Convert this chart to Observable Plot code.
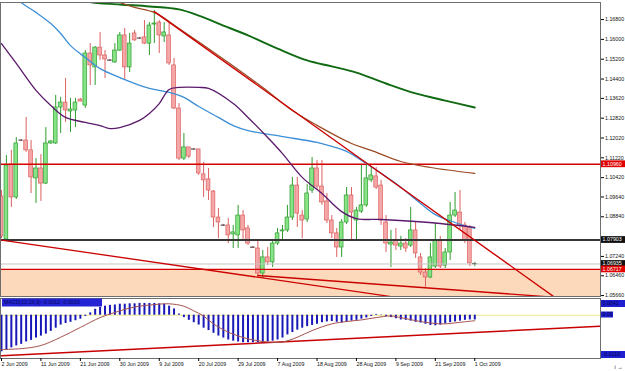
<!DOCTYPE html>
<html><head><meta charset="utf-8">
<script src="https://cdn.jsdelivr.net/npm/d3@7"></script>
<script src="https://cdn.jsdelivr.net/npm/@observablehq/plot@0.6"></script>
<style>
html,body{margin:0;padding:0;background:#fff;}
#wrap{position:relative;width:625px;height:371px;overflow:hidden;background:#fff;font-family:"Liberation Sans",Arial,sans-serif;}
#main,#sub{position:absolute;left:0;}
#main{top:0;}
#sub{top:297px;}
</style></head>
<body><div id="wrap"><div id="main"></div><div id="sub"></div></div>
<script>
// ---------- data ----------
const open=[1.0966,1.0792,1.1095,1.0962,1.1192,1.1192,1.1152,1.1039,1.1079,1.1018,
 1.1180,1.1180,1.1325,1.1345,1.1309,1.1313,1.1357,1.1333,1.1543,1.1487,
 1.1567,1.1535,1.1515,1.1507,1.1555,1.1616,1.1487,1.1624,1.1604,1.1608,
 1.1583,1.1660,1.1668,1.1612,1.1616,1.1495,1.1321,1.1119,1.1164,1.1156,
 1.1156,1.1055,1.1035,1.0986,1.0881,1.0849,1.0849,1.0813,1.0809,1.0889,
 1.0837,1.0760,1.0756,1.0655,1.0720,1.0700,1.0776,1.0825,1.0829,1.0881,
 1.1010,1.0889,1.0873,1.0990,1.1079,1.1006,1.0946,1.0869,1.0817,1.0760,
 1.0861,1.0970,1.0869,1.0905,1.0930,1.1031,1.1047,1.1010,1.0861,1.0772,
 1.0788,1.0764,1.0776,1.0768,1.0829,1.0720,1.0659,1.0639,1.0683,1.0788,
 1.0687,1.0740,1.0889,1.0901,1.0849,1.0841,1.0692];
const close=[1.0805,1.1091,1.0962,1.1180,1.1191,1.1152,1.1043,1.1079,1.1018,1.1180,
 1.1188,1.1325,1.1345,1.1313,1.1317,1.1345,1.1349,1.1543,1.1495,1.1567,
 1.1535,1.1519,1.1514,1.1555,1.1616,1.1487,1.1583,1.1596,1.1603,1.1583,
 1.1656,1.1664,1.1616,1.1628,1.1503,1.1321,1.1119,1.1164,1.1127,1.1155,
 1.1059,1.1031,1.0990,1.0881,1.0861,1.0848,1.0809,1.0821,1.0889,1.0829,
 1.0776,1.0759,1.0655,1.0720,1.0700,1.0776,1.0817,1.0829,1.0881,1.1010,
 1.0897,1.0869,1.0978,1.1079,1.1006,1.0942,1.0869,1.0817,1.0760,1.0861,
 1.0970,1.0901,1.0909,1.0930,1.1039,1.1051,1.1002,1.0869,1.0776,1.0780,
 1.0768,1.0776,1.0756,1.0829,1.0736,1.0659,1.0639,1.0720,1.0788,1.0683,
 1.0740,1.0889,1.0909,1.0849,1.0788,1.0696,1.0693];
const high=[1.0990,1.1131,1.1152,1.1204,1.1196,1.1285,1.1192,1.1119,1.1135,1.1244,
 1.1192,1.1374,1.1366,1.1442,1.1362,1.1362,1.1362,1.1555,1.1583,1.1571,
 1.1628,1.1555,1.1519,1.1583,1.1628,1.1644,1.1624,1.1636,1.1608,1.1676,
 1.1668,1.1717,1.1676,1.1668,1.1664,1.1523,1.1341,1.1220,1.1164,1.1160,
 1.1156,1.1103,1.1079,1.0990,1.0918,1.0853,1.0877,1.0849,1.0930,1.0909,
 1.0849,1.0764,1.0788,1.0748,1.0760,1.0788,1.0837,1.0849,1.0930,1.1043,
 1.1043,1.0909,1.1014,1.1123,1.1111,1.1111,1.0978,1.0889,1.0837,1.0873,
 1.1002,1.1002,1.0922,1.1095,1.1091,1.1083,1.1083,1.1031,1.0889,1.0829,
 1.0837,1.0805,1.0796,1.0922,1.0861,1.0736,1.0675,1.0776,1.0857,1.0805,
 1.0756,1.0942,1.0982,1.0990,1.0861,1.0849,1.0700];
const low=[1.0796,1.0784,1.0922,1.0954,1.1188,1.1144,1.0978,1.0938,1.0946,1.1014,
 1.1176,1.1176,1.1220,1.1265,1.1224,1.1244,1.1349,1.1321,1.1414,1.1414,
 1.1515,1.1442,1.1511,1.1503,1.1551,1.1434,1.1466,1.1592,1.1600,1.1579,
 1.1535,1.1583,1.1543,1.1587,1.1495,1.1317,1.1111,1.1111,1.1119,1.1152,
 1.1051,1.0962,1.0950,1.0841,1.0796,1.0845,1.0776,1.0756,1.0756,1.0788,
 1.0768,1.0756,1.0639,1.0635,1.0687,1.0679,1.0768,1.0788,1.0821,1.0869,
 1.0841,1.0796,1.0861,1.0978,1.0990,1.0930,1.0857,1.0796,1.0720,1.0720,
 1.0853,1.0784,1.0788,1.0897,1.0922,1.1022,1.0994,1.0849,1.0740,1.0679,
 1.0748,1.0748,1.0740,1.0760,1.0716,1.0647,1.0599,1.0635,1.0675,1.0675,
 1.0675,1.0708,1.0881,1.0829,1.0776,1.0683,1.0683];

// moving averages: [bar index, price]
const maGreen=[[17,1.1760],[18,1.1751],[24,1.1741],[30,1.1733],[36,1.1721],[40,1.1696],[45,1.1656],[50,1.1616],[56,1.1563],[62,1.1515],[67,1.1491],[72,1.1466],[78,1.1422],[84,1.1382],[90,1.1353],[96,1.1325]];
const maBrown=[[22,1.1765],[24,1.1749],[27,1.1729],[31,1.1709],[36,1.1644],[46,1.1507],[53,1.1406],[59,1.1313],[64,1.1253],[71,1.1180],[75,1.1152],[81,1.1107],[87,1.1083],[96,1.1059]];
const maBlue=[[3,1.1769],[4,1.1749],[7,1.1709],[10,1.1664],[12,1.1624],[14,1.1575],[17,1.1527],[20,1.1482],[24,1.1446],[30,1.1402],[34,1.1386],[37,1.1366],[40,1.1329],[44,1.1285],[47,1.1252],[50,1.1232],[57,1.1208],[64,1.1184],[67,1.1168],[70,1.1148],[74,1.1099],[80,1.1018],[85,1.0938],[88,1.0893],[92,1.0861],[96,1.0837]];
const maPurple=[[0,1.1583],[3,1.1503],[7,1.1394],[10,1.1333],[13,1.1285],[17,1.1265],[20,1.1252],[22,1.1240],[24,1.1244],[28,1.1273],[30,1.1301],[32,1.1341],[34,1.1398],[36,1.1406],[40,1.1406],[42,1.1402],[47,1.1341],[50,1.1285],[54,1.1204],[57,1.1139],[61,1.1043],[65,1.0978],[69,1.0905],[72,1.0877],[77,1.0873],[84,1.0865],[89,1.0857],[96,1.0841]];

// trend lines: [bar index, price]
const trendDown=[[31,1.1712],[112,1.0562]];
const trendLowA=[[0,1.0790],[79,1.0562]];
const trendLowB=[[52,1.0647],[113,1.0558]];

// horizontal levels
const resLevel=1.10960, midLevel=1.07903, bidLevel=1.06935, supLevel=1.06717;

const priceTicks=[1.16800,1.16000,1.15200,1.14400,1.13620,1.12820,1.12020,1.11220,1.10420,1.09640,1.08840,1.07240,1.06460,1.05660];
const dateTicks=[0,8,16,24,32,40,48,56,64,72,80,88,96];
const dateLabels=["2 Jun 2009","11 Jun 2009","21 Jun 2009","30 Jun 2009","9 Jul 2009","20 Jul 2009","29 Jul 2009","7 Aug 2009","18 Aug 2009","28 Aug 2009","9 Sep 2009","21 Sep 2009","1 Oct 2009"];

// MACD
const macdHist=[-0.0093,-0.0089,-0.0083,-0.0078,-0.0074,-0.0068,-0.0064,-0.0058,-0.0053,-0.0048,
 -0.0041,-0.0033,-0.0025,-0.0021,-0.0018,-0.0014,-0.0010,-0.0003,0.0006,0.0015,
 0.0020,0.0023,0.0025,0.0026,0.0028,0.0028,0.0029,0.0029,0.0030,0.0030,
 0.0030,0.0030,0.0029,0.0028,0.0023,0.0016,0.0003,-0.0006,-0.0013,-0.0019,
 -0.0025,-0.0033,-0.0039,-0.0046,-0.0053,-0.0058,-0.0063,-0.0066,-0.0068,-0.0070,
 -0.0070,-0.0070,-0.0070,-0.0070,-0.0068,-0.0066,-0.0063,-0.0058,-0.0050,-0.0044,
 -0.0038,-0.0033,-0.0029,-0.0026,-0.0023,-0.0019,-0.0017,-0.0016,-0.0018,-0.0020,
 -0.0018,-0.0015,-0.0013,-0.0010,-0.0007,-0.0003,0.0002,-0.0001,-0.0003,-0.0006,
 -0.0009,-0.0012,-0.0013,-0.0015,-0.0018,-0.0020,-0.0023,-0.0026,-0.0027,-0.0025,
 -0.0022,-0.0019,-0.0017,-0.0015,-0.0013,-0.0012,-0.0012];
const macdSignal=[[0,-0.0087],[4,-0.0085],[8,-0.0077],[12,-0.0056],[16,-0.0031],[20,-0.0006],[23,0.0007],[27,0.0021],[31,0.0027],[34,0.0029],[37,0.0023],[39,0.0011],[41,-0.0002],[43,-0.0022],[46,-0.0043],[50,-0.0060],[54,-0.0068],[57,-0.0068],[60,-0.0056],[63,-0.0039],[67,-0.0022],[70,-0.0016],[73,-0.0012],[76,-0.0006],[79,-0.0002],[81,-0.0006],[85,-0.0016],[89,-0.0022],[91,-0.0021],[93,-0.0018],[96,-0.0014]];
const macdTrend=[[0,-0.0103],[121.5,-0.0028]];
const macdLabel="MACD(12,26,9) -0.0012 -0.0016";
const macdScaleLabels=["0.0042","0.00","-0.0110"];

// ---------- chart ----------
const hasAxisMarks = typeof Plot.axisY === "function";
const FS = 5.3;
const FF = "'Liberation Sans',Arial,sans-serif";
const candles = open.map((o,i)=>({i,o,c:close[i],h:high[i],l:low[i]}));
const isDoji = d => Math.abs(d.c-d.o) < 0.0003;
const bodyFill = d => isDoji(d) ? "none" : (d.c>d.o ? "#86e486" : "#f5a6a6");
const bodyStroke = d => isDoji(d) ? "#2a2a2a" : (d.c>d.o ? "#2f9b2f" : "#dc5f5f");
const wickStroke = d => d.c>=d.o ? "#2f9b2f" : "#dc5f5f";
const xDomain=[-0.2,121.5];
const curve="catmull-rom";

const yMain={domain:[1.05623,1.17489]};
if(!hasAxisMarks) Object.assign(yMain,{axis:"right",ticks:priceTicks,tickFormat:d=>d.toFixed(5),tickSize:3,tickPadding:1.5});
else yMain.axis=null;

const mainMarks=[
  Plot.rect([0],{y1:supLevel,y2:1.0,fill:"#fcd9ba",clip:true}),
  Plot.ruleX(candles,{x:"i",y1:"l",y2:"h",stroke:wickStroke,strokeWidth:1,clip:true}),
  Plot.rect(candles,{x1:d=>d.i-0.38,x2:d=>d.i+0.38,y1:"o",y2:"c",fill:bodyFill,stroke:bodyStroke,strokeWidth:0.7,clip:true}),
  Plot.ruleY([bidLevel],{stroke:"#c4c4c4",strokeWidth:1}),
  Plot.ruleY([resLevel],{stroke:"#d40000",strokeWidth:1.3}),
  Plot.ruleY([midLevel],{stroke:"#363636",strokeWidth:2}),
  Plot.ruleY([supLevel],{stroke:"#d40000",strokeWidth:1.3}),
  Plot.line(maGreen,{x:d=>d[0],y:d=>d[1],stroke:"#0f6a12",strokeWidth:1.9,curve,clip:true}),
  Plot.line(maBrown,{x:d=>d[0],y:d=>d[1],stroke:"#9a4a22",strokeWidth:1.2,curve,clip:true}),
  Plot.line(maBlue,{x:d=>d[0],y:d=>d[1],stroke:"#3c8fd6",strokeWidth:1.3,curve,clip:true}),
  Plot.line(maPurple,{x:d=>d[0],y:d=>d[1],stroke:"#5b1a6c",strokeWidth:1.3,curve,clip:true}),
  Plot.line(trendDown,{x:d=>d[0],y:d=>d[1],stroke:"#cc0000",strokeWidth:1.4,clip:true}),
  Plot.line(trendLowA,{x:d=>d[0],y:d=>d[1],stroke:"#cc0000",strokeWidth:1.3,clip:true}),
  Plot.line(trendLowB,{x:d=>d[0],y:d=>d[1],stroke:"#cc0000",strokeWidth:1.3,clip:true}),
  Plot.frame({stroke:"#6e6e6e"}),
  hasAxisMarks ? Plot.axisY(priceTicks,{anchor:"right",tickSize:3,tickPadding:1.5,tickFormat:d=>d.toFixed(5),fontSize:FS,fill:"#111"}) : null
].filter(Boolean);

const mainSvg = Plot.plot({
  width:625,height:298,marginLeft:0,marginRight:25,marginTop:2,marginBottom:2,
  style:`background:transparent;overflow:visible;font-family:${FF};font-size:${FS}px;`,
  x:{type:"linear",domain:xDomain,axis:null},
  y:yMain,
  color:{type:"identity"},
  marks:mainMarks
});
document.getElementById("main").appendChild(mainSvg);

// price tags on the right axis
(function(){
  let ys;
  try { const s = mainSvg.scale("y"); ys = v => s.apply(v); }
  catch(e){ const s=d3.scaleLinear().domain(yMain.domain).range([296,2]); ys = v => s(v); }
  const g = d3.select(mainSvg).append("g").attr("text-anchor","start").attr("font-family",FF).attr("font-size",FS);
  const tag=(v,bg,fg)=>{
    const y=ys(v);
    g.append("rect").attr("x",601).attr("y",y-3.4).attr("width",24).attr("height",6.8).attr("fill",bg);
    g.append("text").attr("x",602.6).attr("y",y).attr("dy","0.35em").attr("fill",fg).text(v.toFixed(5));
  };
  tag(resLevel,"#e00000","#fff");
  tag(midLevel,"#111","#fff");
  tag(bidLevel,"#111","#fff");
  tag(supLevel,"#e00000","#fff");
})();

// ---------- MACD sub window ----------
const xSub={type:"linear",domain:xDomain};
if(!hasAxisMarks) Object.assign(xSub,{axis:"bottom",ticks:dateTicks,tickFormat:d=>dateLabels[dateTicks.indexOf(d)],tickSize:3,tickPadding:1});
else xSub.axis=null;
const subMarks=[
  Plot.ruleY([0],{stroke:"#efe98a",strokeWidth:1}),
  Plot.line(macdTrend,{x:d=>d[0],y:d=>d[1],stroke:"#c80000",strokeWidth:1.5,clip:true}),
  Plot.ruleX(macdHist.map((v,i)=>({i,v})),{x:"i",y1:0,y2:"v",stroke:"#1818b8",strokeWidth:2}),
  Plot.line(macdSignal,{x:d=>d[0],y:d=>d[1],stroke:"#a5534f",strokeWidth:1,curve}),
  Plot.frame({stroke:"#6e6e6e"}),
  hasAxisMarks ? Plot.axisX(dateTicks,{anchor:"bottom",tickSize:3,tickPadding:1,textAnchor:"start",tickFormat:d=>dateLabels[dateTicks.indexOf(d)],fontSize:FS,fill:"#111"}) : null
].filter(Boolean);
const subSvg = Plot.plot({
  width:625,height:74,marginLeft:0,marginRight:25,marginTop:1,marginBottom:13,
  style:`background:transparent;overflow:visible;font-family:${FF};font-size:${FS}px;`,
  x:xSub,
  y:{domain:[-0.011,0.00425],axis:null},
  marks:subMarks
});
document.getElementById("sub").appendChild(subSvg);
(function(){
  const g=d3.select(subSvg).append("g").attr("text-anchor","start").attr("font-family",FF).attr("font-size",FS);
  g.append("rect").attr("x",2).attr("y",1.5).attr("width",100).attr("height",8).attr("fill","#2424d4");
  g.append("text").attr("x",4).attr("y",5.5).attr("dy","0.35em").attr("fill","#08085a").text(macdLabel);
  const boxes=[[3,7,24,macdScaleLabels[0]],[14.5,6,12,macdScaleLabels[1]],[54,7,24,macdScaleLabels[2]]];
  boxes.forEach(([y,h,w,t])=>{
    g.append("rect").attr("x",601).attr("y",y).attr("width",w).attr("height",h).attr("fill","#1f1fd0");
    g.append("text").attr("x",602.5).attr("y",y+h/2).attr("dy","0.35em").attr("fill","#05054a").text(t);
  });
})();
</script>
</body></html>
